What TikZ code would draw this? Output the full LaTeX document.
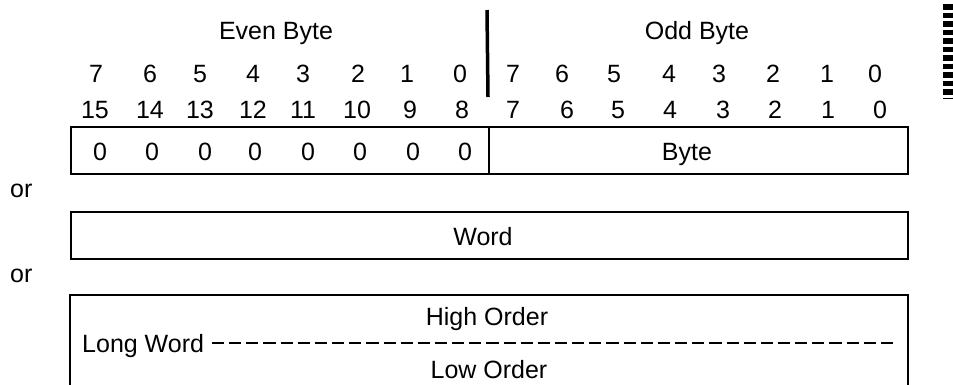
\documentclass[tikz,border=0pt]{standalone}
\usepackage{fontspec}
\setmainfont{Liberation Sans}
\begin{document}
\begin{tikzpicture}[x=1pt,y=-1pt,
  txt/.style={anchor=base,inner sep=0pt,font=\fontsize{25}{29}\selectfont},
  boxline/.style={line width=1.6pt},
  divider/.style={line width=3.5pt},
  ldash/.style={line width=1.6pt,dash pattern=on 12.15pt off 5pt},
  stripe/.style={line width=10pt,dash pattern=on 5.5pt off 3pt}]
\useasboundingbox[fill=white] (0,0) rectangle (953,384);
% headers
\node[txt] (even) at (276,39) {Even Byte};
\node[txt] (odd) at (697,39) {Odd Byte};
\coordinate (divtop) at (487,10);
\coordinate (divbot) at (488,97);
\draw[divider] (divtop) -- (divbot);
% bit rows
\foreach \x/\t [count=\i] in {96/7,150/6,200/5,253/4,303/3,358/2,407/1,460/0,513/7,562/6,614/5,669/4,719/3,773/2,827/1,875/0}
  \node[txt] (ra\i) at (\x,82) {\t};
\foreach \x/\t [count=\i] in {95/15,150/14,200/13,253/12,303/11,357/10,410/9,462/8,513/7,567/6,618/5,670/4,723/3,775/2,828/1,880/0}
  \node[txt] (rb\i) at (\x,118) {\t};
% byte box
\coordinate (b1a) at (71,127);
\coordinate (b1b) at (908,174);
\draw[boxline] (b1a) rectangle (b1b);
\coordinate (b1m1) at (489,127);
\coordinate (b1m2) at (489,174);
\draw[boxline] (b1m1) -- (b1m2);
\foreach \x [count=\i] in {100,152,205,255,308,360,413,465}
  \node[txt] (z\i) at (\x,160) {0};
\node[txt] (byte) at (687,160) {Byte};
% or
\node[txt,anchor=base west] (or1) at (10,197) {or};
% word box
\coordinate (w1) at (71,212);
\coordinate (w2) at (908,259);
\draw[boxline] (w1) rectangle (w2);
\node[txt] (word) at (483,245) {Word};
\node[txt,anchor=base west] (or2) at (10,282) {or};
% long word box
\coordinate (l1) at (70,388);
\coordinate (l2) at (70,295);
\coordinate (l3) at (908,295);
\coordinate (l4) at (908,388);
\draw[boxline] (l1) -- (l2) -- (l3) -- (l4);
\node[txt] (high) at (487,325) {High Order};
\node[txt,anchor=base west] (long) at (82,352) {Long Word};
\coordinate (dstart) at (212,343);
\coordinate (dend) at (893,343);
\draw[ldash] (dstart) -- (dend);
\node[txt] (low) at (489,378) {Low Order};
% scan margin marks
\coordinate (s1) at (948,4);
\coordinate (s2) at (948,98);
\draw[stripe] (s1) -- (s2);
\end{tikzpicture}
\end{document}
